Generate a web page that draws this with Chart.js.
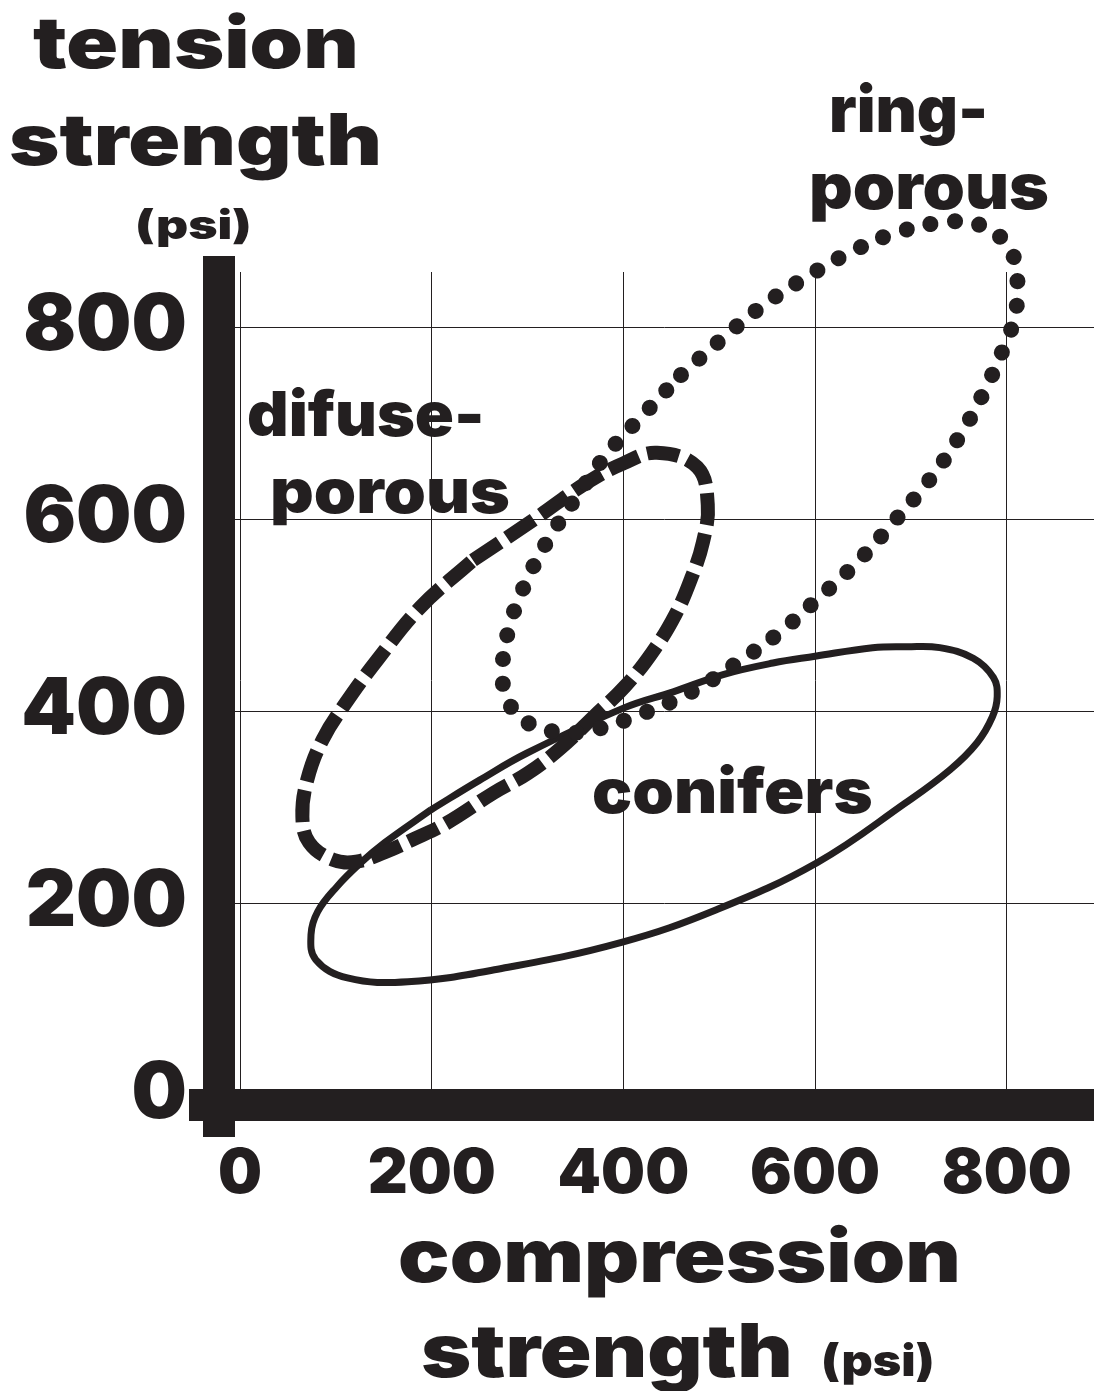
<!DOCTYPE html>
<html>

<head>
    <meta charset="UTF-8">
    <title>Tension vs compression strength of wood</title>
    <script src="https://cdn.jsdelivr.net/npm/chart.js"></script>
    <style>
        body { margin: 0; background: #fff; }
        #wrap { position: relative; width: 1094px; height: 1391px; overflow: hidden; }
        .lbl {
            position: absolute;
            white-space: nowrap;
            color: #231f20;
            font-family: "Inter", "Roboto", "DejaVu Sans", sans-serif;
            font-weight: 900;
            line-height: 1;
            transform-origin: 0 0;
        }
    </style>
</head>

<body>
    <div id="wrap">
        <canvas id="strengthChart"></canvas>
    </div>

    <script>
        // compression strength (x) and tension strength (y), psi
        const ringX = [460, 501, 545, 591, 639, 690, 743, 770, 794, 809, 811, 809, 800, 777, 750, 718, 682, 644, 604, 562, 517, 471, 419, 367, 334, 303, 279, 274, 280, 295, 320, 351, 383, 421, 460];
        const ringY = [750, 786, 822, 852, 879, 900, 910, 907, 893, 868, 841, 813, 786, 734, 685, 639, 597, 555, 518, 481, 449, 420, 397, 380, 378, 386, 411, 446, 484, 527, 576, 623, 668, 709, 750];

        const diffuseX = [243, 306, 362, 400, 435, 477, 488, 483, 471, 454, 430, 402, 370, 334, 300, 265, 215, 180, 151, 121, 97, 72, 65, 70, 86, 110, 143, 188, 243];
        const diffuseY = [557, 599, 638, 658, 669, 654, 615, 576, 539, 500, 461, 426, 395, 361, 335, 315, 283, 266, 253, 243, 245, 263, 290, 328, 370, 408, 453, 508, 557];

        const coniferX = [199, 250, 299, 400, 452, 504, 556, 600, 660, 696, 730, 765, 786, 790, 785, 769, 741, 694, 602, 497, 398, 274, 175, 112, 79, 74, 81, 101, 126, 151, 199];
        const coniferY = [297, 328, 356, 403, 420, 438, 450, 457, 466, 467, 466, 455, 435, 415, 394, 367, 339, 304, 242, 193, 159, 132, 118, 122, 141, 167, 191, 217, 242, 263, 297];

        const tickValues = [0, 200, 400, 600, 800];

        const INK = "#231f20";
        const FONT = '"Inter", "Roboto", "DejaVu Sans", sans-serif';

        const toPoints = (xs, ys) => xs.map((x, i) => ({ x: x, y: ys[i] }));

        // first tick sits on the axis itself: it draws the thick stub past the corner
        const axisTicks = (scale) => {
            scale.ticks = [{ value: scale.min }].concat(tickValues.map(v => ({ value: v })));
        };

        const curve = {
            showLine: true,
            fill: false,
            pointRadius: 0,
            pointHoverRadius: 0,
            tension: 0.4,
            clip: false,
            borderColor: INK,
            backgroundColor: INK
        };

        const ctx = document.getElementById("strengthChart").getContext("2d");

        new Chart(ctx, {
            type: "scatter",
            data: {
                datasets: [
                    Object.assign({}, curve, {
                        label: "ring-porous",
                        data: toPoints(ringX, ringY),
                        borderWidth: 16,
                        borderDash: [0.1, 24.5],
                        borderCapStyle: "round"
                    }),
                    Object.assign({}, curve, {
                        label: "difuse-porous",
                        data: toPoints(diffuseX, diffuseY),
                        borderWidth: 14,
                        borderDash: [32, 9],
                        borderCapStyle: "butt"
                    }),
                    Object.assign({}, curve, {
                        label: "conifers",
                        data: toPoints(coniferX, coniferY),
                        borderWidth: 7
                    })
                ]
            },
            options: {
                responsive: true,
                maintainAspectRatio: false,
                animation: false,
                events: [],
                layout: { padding: { top: 272, left: 0, right: 0, bottom: 0 } },
                elements: { line: { capBezierPoints: false } },
                plugins: {
                    legend: { display: false },
                    tooltip: { enabled: false },
                    title: { display: false }
                },
                scales: {
                    x: {
                        type: "linear",
                        min: -22,
                        max: 891,
                        afterBuildTicks: axisTicks,
                        afterFit: (s) => { s.height = 286; },
                        ticks: {
                            autoSkip: false,
                            maxRotation: 0,
                            padding: 6,
                            color: INK,
                            font: { family: FONT, size: 62, weight: 900, lineHeight: 1 },
                            callback: (v) => v < 0 ? "" : v
                        },
                        grid: {
                            color: INK,
                            lineWidth: (c) => c.index === 0 ? 32 : 1,
                            drawTicks: true,
                            tickLength: 32,
                            tickWidth: (c) => c.index === 0 ? 32 : 0,
                            tickColor: INK
                        },
                        border: { display: true, width: 32, color: INK }
                    },
                    y: {
                        type: "linear",
                        min: -10.4,
                        max: 857.3,
                        afterBuildTicks: axisTicks,
                        afterFit: (s) => { s.width = 219; },
                        ticks: {
                            autoSkip: false,
                            padding: 2,
                            color: INK,
                            font: { family: FONT, size: 78, weight: 900, lineHeight: 1 },
                            callback: (v) => v < 0 ? "" : v
                        },
                        grid: {
                            color: INK,
                            lineWidth: (c) => c.index === 0 ? 32 : 1,
                            drawTicks: true,
                            tickLength: 30,
                            tickWidth: (c) => c.index === 0 ? 32 : 0,
                            tickColor: INK
                        },
                        border: { display: true, width: 32, color: INK }
                    }
                }
            }
        });

        // axis titles and region names, fitted to their place in the picture
        const overlays = [
            { text: "tension", size: 71, left: 33, right: 355, base: 68 },
            { text: "strength", size: 71, left: 10, right: 378, base: 165 },
            { text: "(psi)", size: 40, left: 137, right: 248, base: 239 },
            { text: "ring-", size: 64, left: 832, right: 985, base: 132 },
            { text: "porous", size: 64, left: 812, right: 1047, base: 209 },
            { text: "difuse-", size: 62, left: 248, right: 481, base: 436 },
            { text: "porous", size: 62, left: 273, right: 508, base: 513 },
            { text: "conifers", size: 62, left: 593, right: 871, base: 813 },
            { text: "compression", size: 74, left: 400, right: 957, base: 1282 },
            { text: "strength", size: 74, left: 422, right: 789, base: 1377 },
            { text: "(psi)", size: 44, left: 823, right: 932, base: 1376 }
        ];

        const placeLabels = () => {
            const wrap = document.getElementById("wrap");
            const top0 = wrap.getBoundingClientRect().top;
            const meas = document.createElement("canvas").getContext("2d");
            overlays.forEach(o => {
                const el = document.createElement("div");
                el.className = "lbl";
                el.style.fontSize = o.size + "px";
                el.style.left = "0px";
                el.style.top = "0px";
                el.textContent = o.text;
                const probe = document.createElement("i");
                probe.style.cssText = "display:inline-block;width:0;height:0;";
                el.appendChild(probe);
                wrap.appendChild(el);

                meas.font = `900 ${o.size}px ${FONT}`;
                const m = meas.measureText(o.text);
                const ink = m.actualBoundingBoxLeft + m.actualBoundingBoxRight;
                const sx = (o.right - o.left) / ink;
                const base = probe.getBoundingClientRect().bottom - top0;
                el.style.top = (o.base - base) + "px";
                el.style.left = (o.left + m.actualBoundingBoxLeft * sx) + "px";
                el.style.transform = `scaleX(${sx})`;
            });
        };

        placeLabels();
    </script>
</body>

</html>
